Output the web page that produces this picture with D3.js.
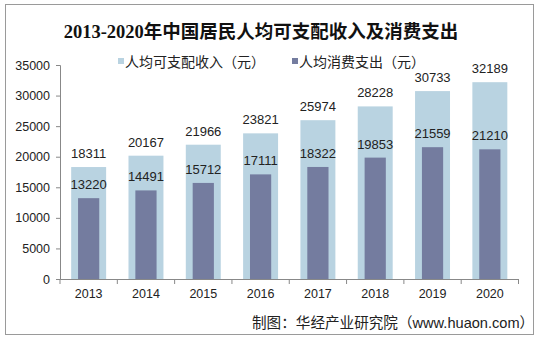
<!DOCTYPE html>
<html><head><meta charset="utf-8">
<script src="https://cdn.jsdelivr.net/npm/d3@7"></script>
<style>html,body{margin:0;padding:0;background:#fff}svg{display:block}</style>
</head><body>
<svg id="c" width="540" height="340"></svg>
<script>
const years = ["2013","2014","2015","2016","2017","2018","2019","2020"];
const income = [18311,20167,21966,23821,25974,28228,30733,32189];
const spending = [13220,14491,15712,17111,18322,19853,21559,21210];
const yTicks = [0,5000,10000,15000,20000,25000,30000,35000];
const seriesNames = ["人均可支配收入（元）","人均消费支出（元）"];
const title = "2013-2020年中国居民人均可支配收入及消费支出";
const source = "制图：华经产业研究院（www.huaon.com）";

const colors = ["#b9d3e1","#747c9f"];
const font = "Arial, 'Liberation Sans', 'Noto Sans CJK SC', sans-serif";
const svg = d3.select("#c");
svg.append("rect").attr("x",5.5).attr("y",4.5).attr("width",528).attr("height",330)
  .attr("fill","#fff").attr("stroke","#9a9a9a").attr("stroke-width",1);

const x = d3.scaleBand().domain(years).range([60,518.5]).padding(0);
const y = d3.scaleLinear().domain([0,35000]).range([279,65]);

svg.append("text").attr("x",261).attr("y",38).attr("text-anchor","middle")
  .attr("font-family","'Liberation Serif','Noto Sans CJK SC',serif").attr("font-weight","bold")
  .attr("font-size",18.5).attr("fill","#111").text(title);

// y axis
const ya = svg.append("g").attr("transform","translate(60,0)")
  .call(d3.axisLeft(y).tickValues(yTicks).tickSize(4).tickPadding(6).tickFormat(d3.format("d")));
ya.selectAll("text").attr("font-family",font).attr("font-size",12.5).attr("fill","#222");
ya.selectAll("line,path").attr("stroke","#888");

// bars
const bw1 = x.bandwidth()*0.61, bw2 = x.bandwidth()*0.37;
svg.append("g").selectAll("rect").data(years).join("rect")
  .attr("x",(d)=>x(d)+x.bandwidth()/2-bw1/2).attr("width",bw1)
  .attr("y",(d,i)=>y(income[i])).attr("height",(d,i)=>y(0)-y(income[i])).attr("fill",colors[0]);
svg.append("g").selectAll("rect").data(years).join("rect")
  .attr("x",(d)=>x(d)+x.bandwidth()/2-bw2/2).attr("width",bw2)
  .attr("y",(d,i)=>y(spending[i])).attr("height",(d,i)=>y(0)-y(spending[i])).attr("fill",colors[1]);

// labels
svg.append("g").selectAll("text").data(years).join("text")
  .attr("x",(d)=>x(d)+x.bandwidth()/2).attr("y",(d,i)=>y(income[i])-9)
  .attr("text-anchor","middle").attr("font-family",font).attr("font-size",13).attr("fill","#222")
  .text((d,i)=>income[i]);
svg.append("g").selectAll("text").data(years).join("text")
  .attr("x",(d)=>x(d)+x.bandwidth()/2).attr("y",(d,i)=>y(spending[i])-9)
  .attr("text-anchor","middle").attr("font-family",font).attr("font-size",13).attr("fill","#222")
  .text((d,i)=>spending[i]);

// x axis
const xa = svg.append("g").attr("transform","translate(0,279)")
  .call(d3.axisBottom(x).tickSize(0).tickPadding(10));
xa.selectAll("text").attr("font-family",font).attr("font-size",12.5).attr("fill","#222");
xa.select("path").attr("stroke","#888");
xa.append("g").selectAll("line").data(years.concat(["end"])).join("line")
  .attr("x1",(d,i)=>60+i*x.bandwidth()).attr("x2",(d,i)=>60+i*x.bandwidth())
  .attr("y1",0).attr("y2",5).attr("stroke","#888");

// legend
const lx = [118,292];
seriesNames.forEach((n,i)=>{
  svg.append("rect").attr("x",lx[i]).attr("y",58).attr("width",6).attr("height",6).attr("fill",colors[i]);
  svg.append("text").attr("x",lx[i]+7).attr("y",67).attr("font-family",font)
    .attr("font-size",14).attr("fill","#222").text(n);
});

// source
svg.append("text").attr("x",252).attr("y",328).attr("font-family",font)
  .attr("font-size",14.6).attr("fill","#222").text(source);
</script>
</body></html>
